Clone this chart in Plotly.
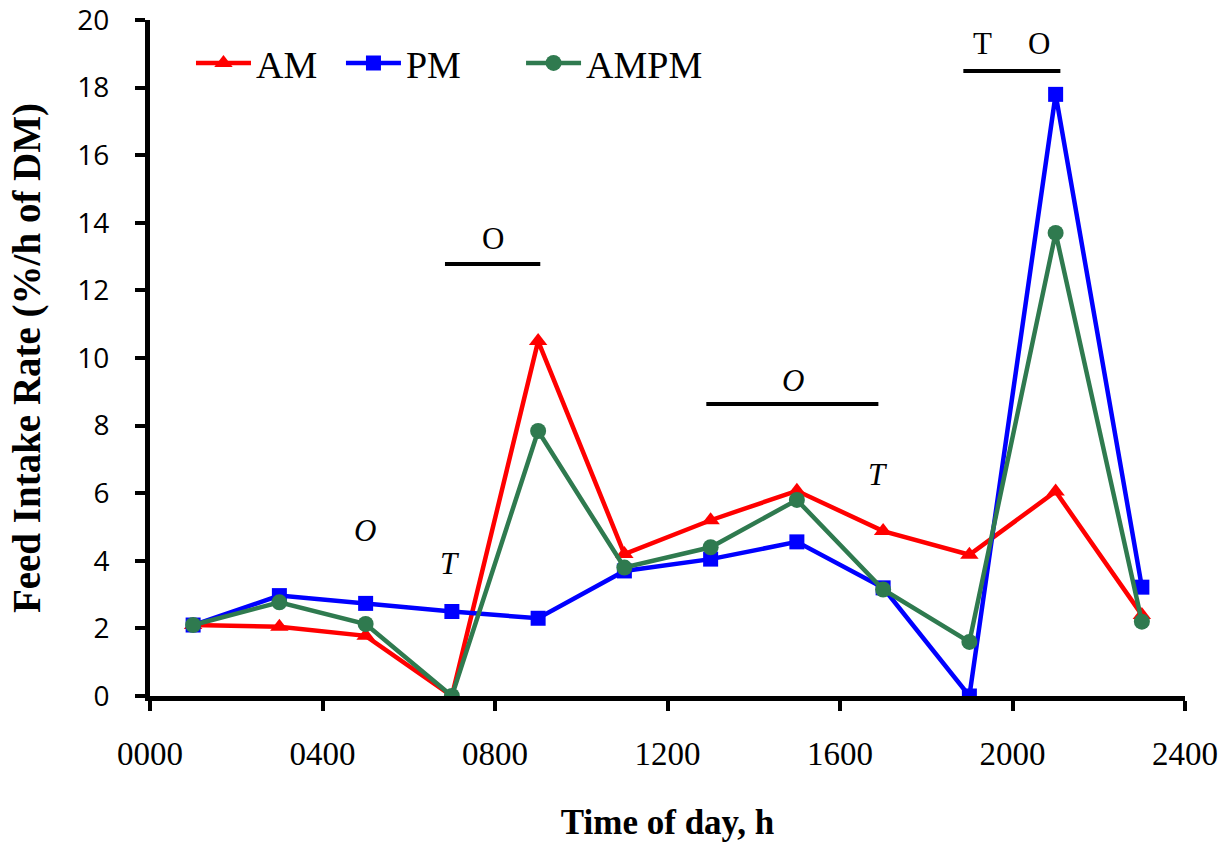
import plotly.graph_objects as go

hours = [100, 300, 500, 700, 900, 1100, 1300, 1500, 1700, 1900, 2100, 2300]
am = [2.1, 2.05, 1.78, 0.0, 10.5, 4.2, 5.2, 6.07, 4.88, 4.18, 6.05, 2.4]
pm = [2.1, 2.97, 2.74, 2.5, 2.3, 3.7, 4.05, 4.56, 3.2, 0.0, 17.8, 3.22]
ampm = [2.1, 2.77, 2.13, 0.0, 7.84, 3.8, 4.4, 5.8, 3.15, 1.6, 13.7, 2.2]

x_ticks = [0, 400, 800, 1200, 1600, 2000, 2400]
x_ticklabels = ["0000", "0400", "0800", "1200", "1600", "2000", "2400"]
y_ticks = [0, 2, 4, 6, 8, 10, 12, 14, 16, 18, 20]

# annotations: (x, y, text, italic)
labels = [(499, 4.9, "O", True), (696, 3.93, "T", True), (796, 13.55, "O", False),
          (1492, 9.32, "O", True), (1689, 6.54, "T", True),
          (1930, 19.3, "T", False), (2062, 19.3, "O", False)]
bars = [(684, 905, 12.78), (1290, 1689, 8.64), (1886, 2111, 18.49)]

RED = "#FF0000"
BLUE = "#0000FF"
GREEN = "#2F7A4F"
serif = "Liberation Serif, Times New Roman, serif"
sans = "Open Sans, Liberation Sans, sans-serif"

fig = go.Figure()
fig.add_trace(go.Scatter(x=hours, y=am, name="AM", mode="lines+markers",
                         line=dict(color=RED, width=4.5), legend="legend",
                         marker=dict(symbol="triangle-up", size=16, color=RED)))
fig.add_trace(go.Scatter(x=hours, y=pm, name="PM", mode="lines+markers",
                         line=dict(color=BLUE, width=4.5), legend="legend2",
                         marker=dict(symbol="square", size=15, color=BLUE)))
fig.add_trace(go.Scatter(x=hours, y=ampm, name="AMPM", mode="lines+markers",
                         line=dict(color=GREEN, width=4.5), legend="legend3",
                         marker=dict(symbol="circle", size=16, color=GREEN)))

for (x, y, t, it) in labels:
    txt = f"<i>{t}</i>" if it else t
    fig.add_annotation(x=x, y=y, text=txt, showarrow=False,
                       font=dict(family=serif, size=31, color="black"))
for (x0, x1, y) in bars:
    fig.add_shape(type="line", x0=x0, x1=x1, y0=y, y1=y, xref="x", yref="y",
                  line=dict(color="black", width=4))

leg_common = dict(orientation="h", y=0.936, xanchor="left", yanchor="middle",
                  font=dict(family=serif, size=38, color="black"),
                  bgcolor="rgba(0,0,0,0)", itemwidth=55)

fig.update_layout(
    width=1219, height=844,
    margin=dict(l=150, r=34, t=20, b=148, autoexpand=False),
    plot_bgcolor="white", paper_bgcolor="white",
    showlegend=True,
    legend=dict(x=0.0396, **leg_common),
    legend2=dict(x=0.1845, **leg_common),
    legend3=dict(x=0.3585, **leg_common),
    xaxis=dict(range=[0, 2400], tickvals=x_ticks, ticktext=x_ticklabels,
               automargin=False,
               showgrid=False, zeroline=False, showline=True, linecolor="black",
               linewidth=5, ticks="outside", tickwidth=4, ticklen=10, tickcolor="black",
               ticklabelstandoff=14, ticklabeloverflow="allow",
               tickfont=dict(family=serif, size=33, color="black"),
               title=dict(text="<b>Time of day, h</b>", standoff=40,
                          font=dict(family=serif, size=35, color="black"))),
    yaxis=dict(range=[0, 20], tickvals=y_ticks, showgrid=False, zeroline=False,
               automargin=False,
               showline=True, linecolor="black", linewidth=5, ticks="outside",
               tickwidth=4, ticklen=10, tickcolor="black",
               ticklabelstandoff=20, ticklabeloverflow="allow",
               tickfont=dict(family=sans, size=28, color="black"),
               title=dict(text="<b>Feed Intake Rate (%/h of DM)</b>", standoff=26,
                          font=dict(family=serif, size=39, color="black"))),
)

fig.write_html("out.html")
